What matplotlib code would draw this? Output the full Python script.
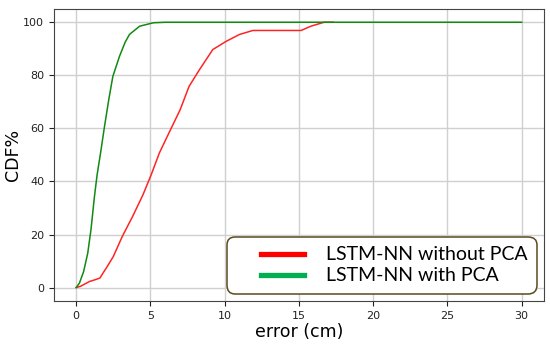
import matplotlib
matplotlib.use("Agg")
import matplotlib.pyplot as plt
from matplotlib.lines import Line2D
from matplotlib.legend_handler import HandlerLine2D

# CDF of the error
err_no_pca = [0, 0.3, 0.9, 1.3, 1.6, 1.8, 2.1, 2.5, 3.1, 3.8, 4.5, 5.05, 5.6, 6.3, 7.0,
              7.6, 8.3, 9.2, 10.1, 11.0, 11.9, 13.4, 15.15, 15.8, 16.7, 17.3]
cdf_no_pca = [0, 0.5, 2.3, 3.0, 3.6, 5.4, 8.0, 11.7, 19.2, 26.8, 35, 42.5, 50.7, 58.9, 67,
              75.8, 82.1, 89.7, 92.8, 95.4, 96.9, 96.9, 96.9, 98.5, 100, 100]

err_pca = [0, 0.22, 0.5, 0.78, 1.0, 1.23, 1.41, 1.65, 1.91, 2.2, 2.47, 2.92, 3.3, 3.59,
           4.27, 5.2, 6.0, 30]
cdf_pca = [0, 1.7, 6, 13, 22, 34.3, 42.5, 51, 60.8, 71, 79.6, 87.2, 92.5, 95.4,
           98.5, 99.8, 100, 100]

labels = ["LSTM-NN without PCA", "LSTM-NN with PCA"]


class ShortLine(HandlerLine2D):
    # draw the legend line only over the right part of the handle box
    def get_xdata(self, legend, xdescent, ydescent, width, height, fontsize):
        xd = [-xdescent + 0.36 * width, -xdescent + width]
        return xd, xd


fig, ax = plt.subplots(figsize=(5.5, 3.45), dpi=100)
fig.subplots_adjust(left=0.098, right=0.989, top=0.974, bottom=0.128)

ax.plot(err_no_pca, cdf_no_pca, color="#ff2424", lw=1.1)
ax.plot(err_pca, cdf_pca, color="#108a10", lw=1.1)

ax.set_xticks([0, 5, 10, 15, 20, 25, 30])
ax.set_yticks([0, 20, 40, 60, 80, 100])
ax.grid(True, color="#d0d0d0", lw=1.0)
ax.set_axisbelow(True)
ax.tick_params(labelsize=8, colors="#222222")
for s in ax.spines.values():
    s.set_color("#444444")

ax.set_xlabel("error (cm)", fontsize=12.5, labelpad=2)
ax.set_ylabel("CDF%", fontsize=12.5, labelpad=1)

handles = [Line2D([], [], color="#ff0000", lw=3.8),
           Line2D([], [], color="#00b050", lw=3.8)]
leg = ax.legend(handles, labels, loc="lower right", bbox_to_anchor=(1.0, 0.0),
                prop={"family": "Lato", "size": 14}, fancybox=True, framealpha=1,
                edgecolor="#5a4a20", handlelength=3.5, handletextpad=1.1,
                labelspacing=0.2, borderpad=0.5, borderaxespad=0.35,
                handler_map={Line2D: ShortLine()})
leg.get_frame().set_linewidth(1.1)
leg.get_frame().set_boxstyle("round,pad=0,rounding_size=0.45")

fig.savefig("out.png", dpi=100)
